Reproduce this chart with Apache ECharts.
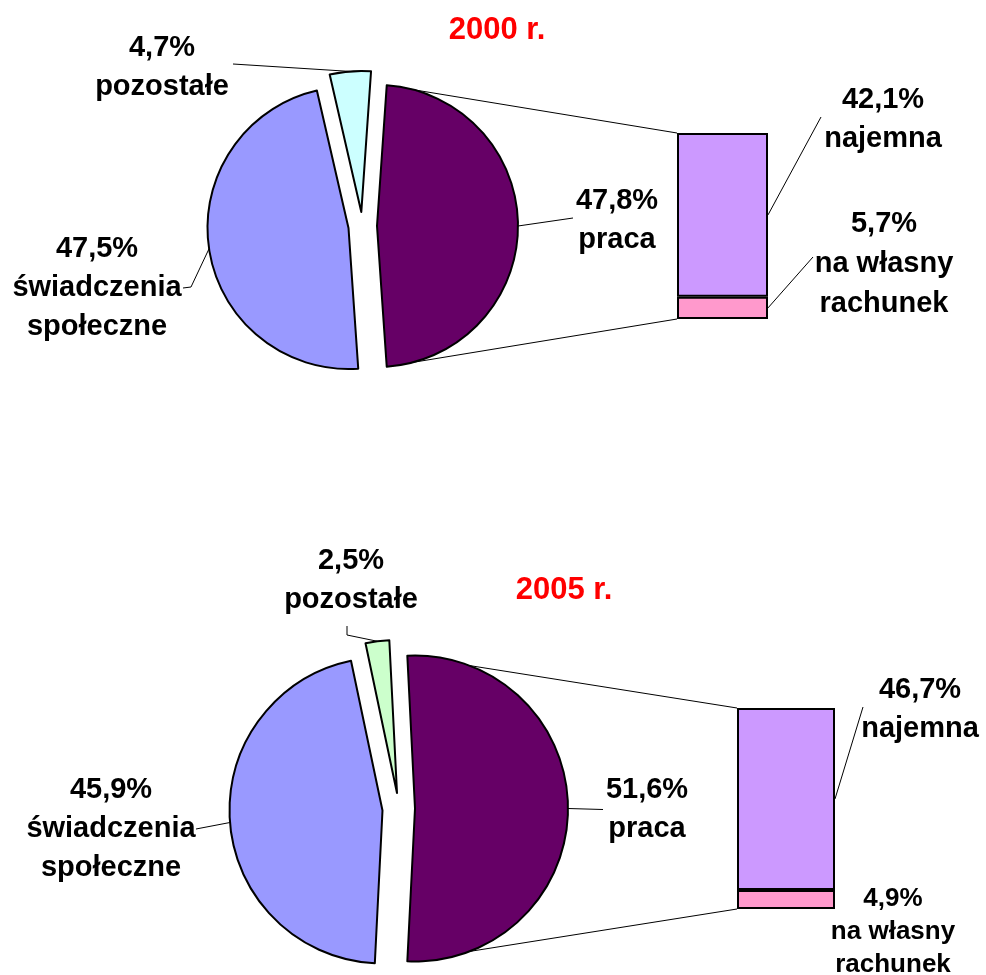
<!DOCTYPE html>
<html>
<head>
<meta charset="utf-8">
<script src="https://cdn.jsdelivr.net/npm/echarts@6/dist/echarts.min.js"></script>
<style>
html, body { margin: 0; padding: 0; background: #fff; }
#chart { width: 986px; height: 975px; }
</style>
</head>
<body>
<div id="chart"></div>
<script>
// data
const years = ['2000 r.', '2005 r.'];
const pieCategories = ['praca', 'świadczenia społeczne', 'pozostałe'];
const pie2000 = [47.8, 47.5, 4.7];
const pie2005 = [51.6, 45.9, 2.5];
const barCategories = ['najemna', 'na własny rachunek'];
const bar2000 = [42.1, 5.7];
const bar2005 = [46.7, 4.9];

const pieValues = [pie2000, pie2005];
const barValues = [bar2000, bar2005];

const FONT = '"Liberation Sans", Arial, sans-serif';
const barColors = ['#CC99FF', '#FF99CC'];

// layout of both panels (px)
const layout = [
    {
        title: [497, 30],
        radius: 141,
        centers: [[377, 226], [348.5, 228], [361.3, 212]],
        colors: ['#660066', '#9999FF', '#CCFFFF'],
        pieLabels: [
            { pos: [617, 220], line: [[573, 218]] },
            { pos: [97, 288], line: [[191, 287], [183, 288]] },
            { pos: [162, 67], line: [[233, 64]] }
        ],
        grid: { left: 677, top: 133, width: 91, height: 186 },
        barLabels: [
            { pos: [883, 119], size: 29, lh: 39, line: [821, 117] },
            { pos: [884, 264], size: 29, lh: 40, line: [813, 257] }
        ]
    },
    {
        title: [564, 590],
        radius: 153,
        centers: [[415, 808.5], [382.5, 810.5], [397, 793]],
        colors: ['#660066', '#9999FF', '#CCFFCC'],
        pieLabels: [
            { pos: [647, 809], line: [[603, 809.5]] },
            { pos: [111, 829], line: [[196, 829]] },
            { pos: [351, 580], line: [[347, 635], [347, 626]] }
        ],
        grid: { left: 737, top: 708, width: 98, height: 201 },
        barLabels: [
            { pos: [920, 709], size: 29, lh: 39, line: [863, 707] },
            { pos: [893, 932], size: 26, lh: 33, line: null }
        ]
    }
];

function fmt(v) {
    return v.toFixed(1).replace('.', ',') + '%';
}
function wrap(name) {
    return name.replace(/ (?=\S+$)/, '\n');
}
function rad(deg) {
    return deg * Math.PI / 180;
}
// clockwise-from-top angle of first slice start: praca is centred on 3 o'clock
function firstAngle(vals) {
    return 90 - vals[0] * 1.8;
}

function pieSeries(k, i) {
    const vals = pieValues[k];
    const L = layout[k];
    const c = L.centers[i];
    let a0 = firstAngle(vals);
    for (let j = 0; j < i; j++) a0 += vals[j] * 3.6;
    const mid = a0 + vals[i] * 1.8;
    const p0 = [c[0] + L.radius * Math.sin(rad(mid)), c[1] - L.radius * Math.cos(rad(mid))];
    const lab = L.pieLabels[i];
    return {
        type: 'pie',
        center: c,
        radius: L.radius,
        startAngle: vals[0] * 1.8,
        clockwise: true,
        avoidLabelOverlap: false,
        silent: true,
        animation: false,
        z: 3,
        data: vals.map((v, j) => ({
            name: pieCategories[j],
            value: v,
            itemStyle: j === i
                ? { color: L.colors[j], borderColor: '#000', borderWidth: 2 }
                : { color: 'rgba(0,0,0,0)', borderWidth: 0 },
            label: { show: j === i },
            labelLine: { show: j === i }
        })),
        label: {
            position: 'outside',
            formatter: p => fmt(p.value) + '\n' + wrap(p.name),
            fontFamily: FONT,
            fontSize: 29,
            fontWeight: 'bold',
            lineHeight: 39,
            color: '#000',
            align: 'center'
        },
        labelLine: { length: 20, length2: 10, lineStyle: { color: '#000', width: 1 } },
        labelLayout: () => ({
            x: lab.pos[0],
            y: lab.pos[1],
            align: 'center',
            verticalAlign: 'middle',
            labelLinePoints: [p0].concat(lab.line.length === 1 ? [lab.line[0], lab.line[0]] : lab.line)
        })
    };
}

function barSeries(k, j) {
    const L = layout[k];
    const lab = L.barLabels[j];
    return {
        type: 'bar',
        name: barCategories[j],
        xAxisIndex: k,
        yAxisIndex: k,
        stack: 'bar' + k,
        barWidth: '100%',
        silent: true,
        animation: false,
        data: [barValues[k][j]],
        itemStyle: { color: barColors[j], borderColor: '#000', borderWidth: 2 },
        label: {
            show: true,
            position: 'right',
            formatter: p => fmt(p.value) + '\n' + wrap(barCategories[j]),
            fontFamily: FONT,
            fontSize: lab.size,
            fontWeight: 'bold',
            lineHeight: lab.lh,
            color: '#000',
            align: 'center'
        },
        labelLayout: { x: lab.pos[0], y: lab.pos[1], align: 'center', verticalAlign: 'middle' }
    };
}

const series = [];
[0, 1].forEach(k => {
    [0, 1, 2].forEach(i => series.push(pieSeries(k, i)));
    // bottom of the stack first
    series.push(barSeries(k, 1));
    series.push(barSeries(k, 0));
});

const chart = echarts.init(document.getElementById('chart'));
chart.setOption({
    backgroundColor: '#fff',
    animation: false,
    grid: layout.map(L => Object.assign({ containLabel: false }, L.grid)),
    xAxis: [0, 1].map(k => ({ type: 'category', gridIndex: k, data: [''], show: false })),
    yAxis: [0, 1].map(k => ({
        type: 'value', gridIndex: k, min: 0,
        max: barValues[k][0] + barValues[k][1], show: false
    })),
    series: series
});

// connector lines, bar leader lines and year titles
const graphic = [];
[0, 1].forEach(k => {
    const L = layout[k];
    const vals = pieValues[k];
    const c = L.centers[0];
    const aS = firstAngle(vals);
    const aE = aS + vals[0] * 3.6;
    const pt = a => [c[0] + L.radius * Math.sin(rad(a)), c[1] - L.radius * Math.cos(rad(a))];
    const total = barValues[k][0] + barValues[k][1];
    const yTop = chart.convertToPixel({ yAxisIndex: k }, total);
    const ySplit = chart.convertToPixel({ yAxisIndex: k }, barValues[k][1]);
    const yBot = chart.convertToPixel({ yAxisIndex: k }, 0);
    const xl = L.grid.left;
    const xr = L.grid.left + L.grid.width;
    const lineStyle = { stroke: '#000', lineWidth: 1, fill: null };
    graphic.push({ type: 'polyline', z: 0, silent: true, shape: { points: [pt(aS), [xl, yTop]] }, style: lineStyle });
    graphic.push({ type: 'polyline', z: 0, silent: true, shape: { points: [pt(aE), [xl, yBot]] }, style: lineStyle });
    const mids = [(yTop + ySplit) / 2, (ySplit + yBot) / 2];
    L.barLabels.forEach((lab, j) => {
        if (!lab.line) return;
        graphic.push({ type: 'polyline', z: 0, silent: true, shape: { points: [[xr, mids[j]], lab.line] }, style: lineStyle });
    });
    graphic.push({
        type: 'text', silent: true, x: L.title[0], y: L.title[1],
        style: {
            text: years[k], fill: '#FF0000', font: 'bold 31px ' + FONT,
            textAlign: 'center', textVerticalAlign: 'middle'
        }
    });
});
chart.setOption({ graphic: graphic });
</script>
</body>
</html>
